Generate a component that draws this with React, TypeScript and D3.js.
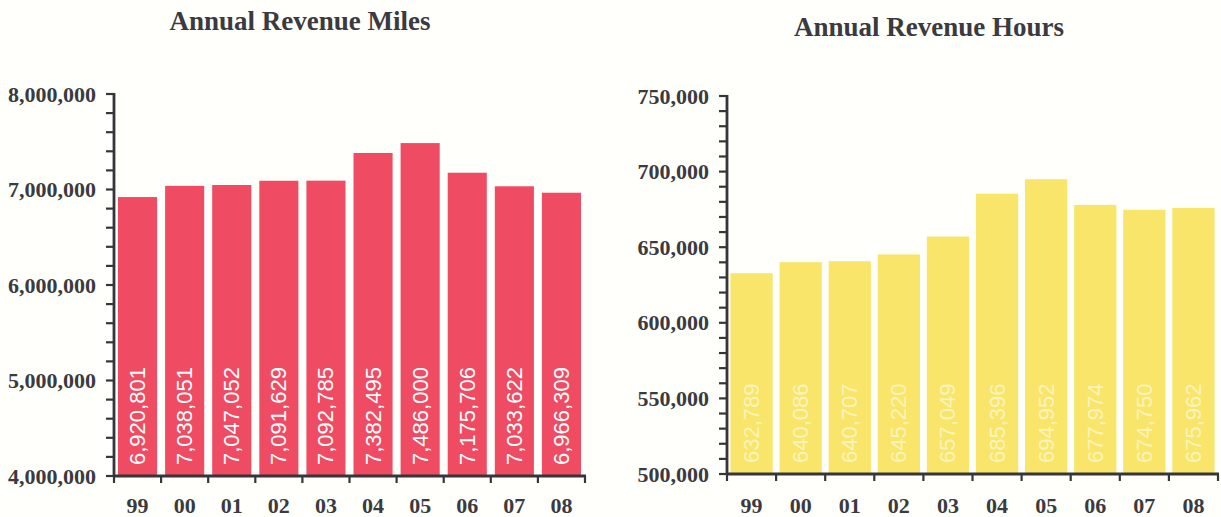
import React from "react";
import * as d3 from "d3";

const years = ["99", "00", "01", "02", "03", "04", "05", "06", "07", "08"];
const milesValues = [6920801, 7038051, 7047052, 7091629, 7092785, 7382495, 7486000, 7175706, 7033622, 6966309];
const hoursValues = [632789, 640086, 640707, 645220, 657049, 685396, 694952, 677974, 674750, 675962];
const milesTicks = [4000000, 5000000, 6000000, 7000000, 8000000];
const hoursTicks = [500000, 550000, 600000, 650000, 700000, 750000];

const fmt = d3.format(",");

type PanelProps = {
  title: string;
  titleX: number;
  titleY: number;
  values: number[];
  domain: [number, number];
  ticks: number[];
  minorStep: number;
  x0: number;
  x1: number;
  yTop: number;
  yBottom: number;
  pad: number;
  barColor: string;
  labelColor: string;
};

function Panel(p: PanelProps) {
  const x = d3.scaleBand<string>().domain(years).range([p.x0, p.x1]).paddingInner(p.pad).paddingOuter(p.pad / 2);
  const xb = d3.scaleBand<string>().domain(years).range([p.x0, p.x1]);
  const y = d3.scaleLinear().domain(p.domain).range([p.yBottom, p.yTop]);
  const minor = d3.range(p.domain[0], p.domain[1] + 1, p.minorStep);
  const axisColor = "#36363a";
  const textColor = "#3a3a40";
  return (
    <g>
      <text x={p.titleX} y={p.titleY} textAnchor="middle" fontFamily="'Liberation Serif', 'DejaVu Serif', serif" fontWeight="bold" fontSize={27} fill={textColor}>
        {p.title}
      </text>
      {p.values.map((v, i) => (
        <rect key={"b" + i} x={x(years[i])} y={y(v)} width={x.bandwidth()} height={y(p.domain[0]) - y(v)} fill={p.barColor} />
      ))}
      {p.values.map((v, i) => {
        const cx = (x(years[i]) as number) + x.bandwidth() / 2;
        const by = y(p.domain[0]) - 11;
        return (
          <text key={"l" + i} transform={`translate(${cx},${by}) rotate(-90)`} textAnchor="start" dominantBaseline="central" fontFamily="'Liberation Sans', Arial, sans-serif" fontSize={22} fill={p.labelColor}>
            {fmt(v)}
          </text>
        );
      })}
      <line x1={p.x0} x2={p.x0} y1={y(p.domain[1]) - 1} y2={y(p.domain[0]) + 1} stroke={axisColor} strokeWidth={2.8} />
      {minor.map((t, i) => (
        <line key={"m" + i} x1={p.x0 - 8} x2={p.x0} y1={y(t)} y2={y(t)} stroke={axisColor} strokeWidth={2.2} />
      ))}
      {p.ticks.map((t, i) => (
        <text key={"t" + i} x={p.x0 - 18} y={y(t)} textAnchor="end" dominantBaseline="central" fontFamily="'Liberation Serif', 'DejaVu Serif', serif" fontWeight="bold" fontSize={22} fill={textColor}>
          {fmt(t)}
        </text>
      ))}
      <line x1={p.x0 - 1} x2={p.x1 + 1} y1={y(p.domain[0])} y2={y(p.domain[0])} stroke={axisColor} strokeWidth={2.8} />
      {years.map((yr, i) => (
        <line key={"xt" + i} x1={xb(yr)} x2={xb(yr)} y1={y(p.domain[0])} y2={y(p.domain[0]) + 7} stroke={axisColor} strokeWidth={2.2} />
      ))}
      <line x1={p.x1} x2={p.x1} y1={y(p.domain[0])} y2={y(p.domain[0]) + 7} stroke={axisColor} strokeWidth={2.2} />
      {years.map((yr, i) => (
        <text key={"xl" + i} x={(xb(yr) as number) + xb.bandwidth() / 2} y={513} textAnchor="middle" fontFamily="'Liberation Serif', 'DejaVu Serif', serif" fontWeight="bold" fontSize={22} fill={textColor}>
          {yr}
        </text>
      ))}
    </g>
  );
}

export default function App() {
  return (
    <svg width={1221} height={517} style={{ position: "absolute", left: 0, top: 0, display: "block", background: "#fffffb" }}>
      <Panel
        title="Annual Revenue Miles"
        titleX={300}
        titleY={30}
        values={milesValues}
        domain={[4000000, 8000000]}
        ticks={milesTicks}
        minorStep={200000}
        x0={114}
        x1={585}
        yTop={94}
        yBottom={476}
        pad={0.17}
        barColor="#ef4b63"
        labelColor="#ffffff"
      />
      <Panel
        title="Annual Revenue Hours"
        titleX={929}
        titleY={36}
        values={hoursValues}
        domain={[500000, 750000]}
        ticks={hoursTicks}
        minorStep={10000}
        x0={727}
        x1={1218}
        yTop={96}
        yBottom={474}
        pad={0.14}
        barColor="#f8e56a"
        labelColor="#fdf4be"
      />
    </svg>
  );
}
